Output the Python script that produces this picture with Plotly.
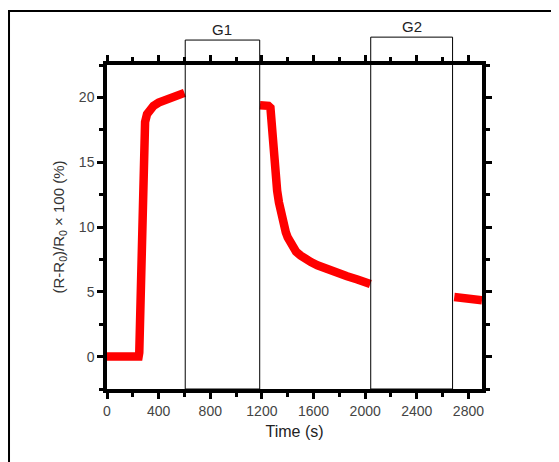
import plotly.graph_objects as go

# Segment 1: exposure (rise)
t_rise = [0, 100, 200, 245, 250, 255, 260, 265, 270, 277, 285, 295, 310, 330, 360, 400, 450, 500, 550, 600]
v_rise = [0, 0, 0, 0, 0.3, 3, 7, 10, 13, 15.8, 17.2, 18.1, 18.7, 19.05, 19.35, 19.6, 19.8, 20.0, 20.2, 20.35]

# Segment 2: recovery
t_rec = [1185, 1220, 1250, 1266, 1272, 1279, 1290, 1305, 1318, 1332, 1345, 1358, 1370, 1385, 1400,
         1420, 1440, 1465, 1500, 1540, 1580, 1630, 1700, 1785, 1860, 1940, 2040]
v_rec = [19.4, 19.4, 19.35, 19.2, 18.3, 16.7, 15.5, 14.0, 12.8, 11.9, 11.2, 10.6, 10.1, 9.6, 9.2,
         8.75, 8.4, 8.1, 7.8, 7.5, 7.3, 7.05, 6.75, 6.45, 6.2, 5.95, 5.6]

# Segment 3: after G2
t_end = [2690, 2750, 2800, 2850, 2905]
v_end = [4.6, 4.55, 4.5, 4.42, 4.35]

# Gap regions
gap_names = ["G1", "G2"]
gap_start = [606, 2043]
gap_end = [1183, 2677]
gap_top = [1.077, 1.086]

x_ticks = [0, 400, 800, 1200, 1600, 2000, 2400, 2800]
y_ticks = [0, 5, 10, 15, 20]

FONT = "Liberation Sans, Arial, sans-serif"

fig = go.Figure()
for tx, vy in [(t_rise, v_rise), (t_rec, v_rec), (t_end, v_end)]:
    fig.add_trace(go.Scatter(x=tx, y=vy, mode="lines",
                             line=dict(color="#ff0000", width=8.5),
                             showlegend=False, hoverinfo="skip"))

shapes = []
annotations = []
for name, a, b, top in zip(gap_names, gap_start, gap_end, gap_top):
    shapes.append(dict(type="rect", xref="x", yref="paper", x0=a, x1=b, y0=0, y1=top,
                       line=dict(color="black", width=1), fillcolor="rgba(0,0,0,0)", layer="above"))
    annotations.append(dict(x=(a + b) / 2, y=top, xref="x", yref="paper", text=name,
                            showarrow=False, yanchor="bottom", yshift=0,
                            font=dict(family=FONT, size=15, color="#222")))

# outer frame
shapes.append(dict(type="rect", xref="paper", yref="paper",
                   x0=-0.2613, x1=1.3, y0=-0.3, y1=1.1667,
                   line=dict(color="black", width=2), fillcolor="rgba(0,0,0,0)"))

axis_common = dict(showline=True, linecolor="black", linewidth=3.5, mirror="ticks",
                   ticks="outside", ticklen=6, tickwidth=3, tickcolor="black",
                   showgrid=False, zeroline=False, automargin=False,
                   tickfont=dict(family=FONT, size=14, color="#444"))

fig.update_layout(
    width=551, height=454,
    margin=dict(l=99, r=77, t=57, b=73),
    plot_bgcolor="white", paper_bgcolor="white",
    shapes=shapes, annotations=annotations,
    xaxis=dict(range=[0, 2905], tickvals=x_ticks, ticktext=[str(v) for v in x_ticks],
               minor=dict(dtick=200, tick0=0, ticklen=4, tickwidth=3, tickcolor="black", ticks="outside"),
               title=dict(text="Time (s)", font=dict(family=FONT, size=16, color="#222"), standoff=9),
               **axis_common),
    yaxis=dict(range=[-2.5, 22.5], tickvals=y_ticks, ticktext=[str(v) for v in y_ticks],
               minor=dict(dtick=2.5, tick0=0, ticklen=4, tickwidth=3, tickcolor="black", ticks="outside"),
               title=dict(text="(R-R<sub>0</sub>)/R<sub>0</sub> × 100 (%)",
                          font=dict(family=FONT, size=15, color="#333"), standoff=12),
               **axis_common),
)

fig.write_html("out.html")
